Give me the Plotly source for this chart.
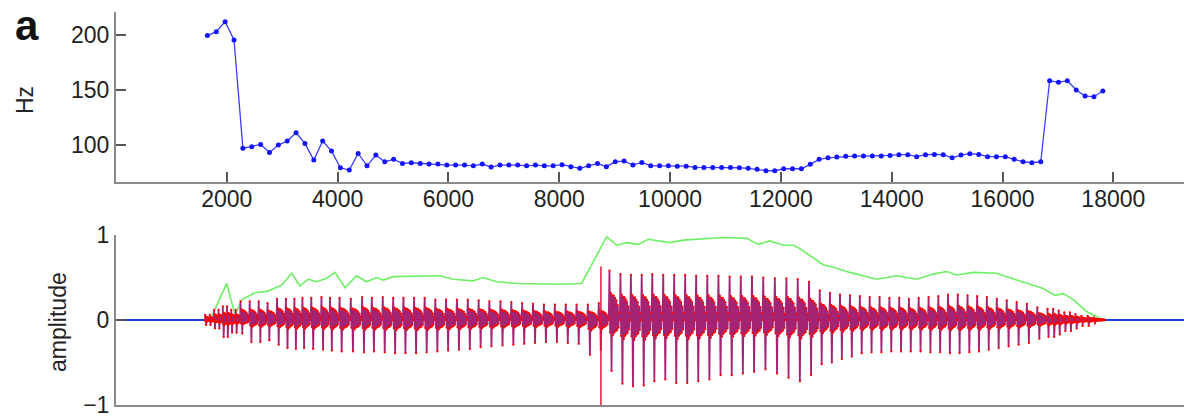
import plotly.graph_objects as go

# ---- analysis settings -------------------------------------------------
FS = 16000          # sample rate (Hz)
HOP = 160           # pitch-frame hop (samples)
FRAME0 = 1650       # sample index of the first voiced frame

# ---- pitch track (Hz), one value per frame -----------------------------
pitch_hz = [
    199.7, 203.3, 212.4, 195.7, 96.9, 98.4, 100.5, 93.2, 99.9, 103.6,
    111.1, 101.4, 86.2, 103.6, 94.4, 79.2, 77.1, 92.3, 81.0, 90.8,
    84.7, 86.9, 83.2, 83.8, 83.2, 82.6, 82.6, 81.7, 81.7, 81.7,
    81.0, 82.6, 79.8, 81.7, 81.7, 81.7, 81.0, 81.7, 81.0, 81.0,
    82.0, 80.2, 78.7, 81.0, 83.2, 80.2, 84.7, 85.3, 81.7, 84.1,
    81.0, 81.0, 81.0, 80.7, 80.7, 79.5, 79.5, 79.5, 79.5, 79.5,
    79.2, 78.7, 77.8, 76.5, 76.5, 78.3, 78.3, 78.3, 82.3, 86.9,
    88.3, 89.0, 89.6, 89.9, 89.9, 89.9, 89.9, 90.5, 91.1, 91.1,
    89.3, 91.1, 91.4, 91.1, 88.3, 90.8, 92.0, 91.4, 89.3, 89.3,
    89.3, 86.9, 84.7, 83.8, 84.7, 158.6, 157.1, 158.6, 150.1, 144.6,
    144.0, 149.2,
]
frame_t = [FRAME0 + HOP * i for i in range(len(pitch_hz))]

# ---- per-frame waveform extremes (amplitude) ---------------------------
peak_pos = [
    0.06, 0.12, 0.16, 0.12, 0.22, 0.22, 0.22, 0.20, 0.25, 0.25,
    0.25, 0.26, 0.26, 0.27, 0.26, 0.26, 0.25, 0.27, 0.26, 0.26,
    0.27, 0.26, 0.26, 0.26, 0.26, 0.25, 0.24, 0.24, 0.24, 0.24,
    0.23, 0.23, 0.22, 0.22, 0.21, 0.20, 0.19, 0.19, 0.18, 0.18,
    0.18, 0.18, 0.18, 0.18, 0.20, 0.58, 0.55, 0.54, 0.53, 0.53,
    0.54, 0.53, 0.53, 0.53, 0.53, 0.52, 0.52, 0.52, 0.52, 0.51,
    0.51, 0.51, 0.50, 0.50, 0.49, 0.49, 0.49, 0.48, 0.45, 0.35,
    0.32, 0.30, 0.29, 0.28, 0.28, 0.27, 0.27, 0.26, 0.26, 0.25,
    0.26, 0.27, 0.28, 0.30, 0.31, 0.30, 0.29, 0.28, 0.27, 0.25,
    0.23, 0.21, 0.19, 0.17, 0.15, 0.13, 0.11, 0.09, 0.07, 0.05,
    0.03, 0.01,
]
peak_neg = [
    -0.06, -0.10, -0.20, -0.15, -0.16, -0.26, -0.26, -0.24, -0.29, -0.33,
    -0.34, -0.33, -0.34, -0.35, -0.36, -0.37, -0.37, -0.38, -0.37, -0.38,
    -0.38, -0.39, -0.39, -0.39, -0.38, -0.38, -0.37, -0.36, -0.35, -0.34,
    -0.33, -0.32, -0.31, -0.30, -0.29, -0.28, -0.27, -0.27, -0.26, -0.26,
    -0.27, -0.28, -0.28, -0.41, -0.35, -0.60, -0.55, -0.75, -0.78, -0.77,
    -0.72, -0.70, -0.74, -0.74, -0.74, -0.72, -0.70, -0.69, -0.65, -0.65,
    -0.63, -0.61, -0.56, -0.58, -0.63, -0.68, -0.74, -0.72, -0.65, -0.52,
    -0.50, -0.46, -0.43, -0.40, -0.39, -0.38, -0.38, -0.37, -0.37, -0.37,
    -0.37, -0.38, -0.38, -0.39, -0.39, -0.39, -0.38, -0.37, -0.35, -0.33,
    -0.31, -0.29, -0.27, -0.25, -0.22, -0.20, -0.17, -0.13, -0.10, -0.07,
    -0.04, -0.01,
]

# normalised shape of one glottal cycle (positive part scaled by peak_pos,
# negative part by |peak_neg|)
pulse_shape = [0.0, 1.0, -0.25, 0.55, -1.0, 0.5, -0.3, 0.5,
               -0.25, 0.45, -0.22, 0.4, -0.2, 0.3, -0.15, 0.15]

VOICE_ON = 1606
VOICE_OFF = 17850
SIGNAL_END = 19275

# isolated click inside the signal
click_t = 8752
click_hi, click_lo = 0.63, -1.0

# ---- amplitude envelope ------------------------------------------------
env_t = [0, 1606, 1732, 1998, 2148, 2274, 2508, 2743, 2990, 3171, 3321,
         3470, 3622, 3802, 3952, 4133, 4344, 4524, 4705, 4824, 5004,
         5486, 5847, 6082, 6443, 6623, 6870, 7231, 8012, 8404, 8855,
         9036, 9216, 9426, 9606, 9997, 10238, 10960, 11382, 11591, 11802,
         12042, 12223, 12344, 12524, 12764, 12945, 13246, 13728, 14089,
         14450, 14749, 14991, 15172, 15471, 15893, 16254, 16734, 16945,
         17096, 17276, 17517, 17757, 17866, 19275]
env_amp = [0.0, 0.0, 0.05, 0.43, 0.06, 0.24, 0.32, 0.34, 0.41, 0.55, 0.40,
           0.48, 0.45, 0.49, 0.56, 0.38, 0.52, 0.45, 0.50, 0.47, 0.51,
           0.52, 0.52, 0.48, 0.46, 0.50, 0.45, 0.43, 0.42, 0.43, 0.98,
           0.88, 0.91, 0.89, 0.95, 0.91, 0.94, 0.97, 0.96, 0.89, 0.93,
           0.88, 0.88, 0.84, 0.76, 0.65, 0.62, 0.56, 0.48, 0.52,
           0.48, 0.54, 0.57, 0.53, 0.56, 0.55, 0.47, 0.37, 0.29,
           0.31, 0.24, 0.10, 0.02, 0.0, 0.0]

# ---- axis ticks --------------------------------------------------------
x_ticks = [2000, 4000, 6000, 8000, 10000, 12000, 14000, 16000, 18000]
x_tick_labels = ["2000", "4000", "6000", "8000", "10000", "12000",
                 "14000", "16000", "18000"]
hz_ticks = [100, 150, 200]
amp_ticks = [-1, 0, 1]
amp_tick_labels = ["\u22121", "0", "1"]

# ---- build the voiced waveform cycle by cycle from the pitch track -----
n_frames = len(pitch_hz)
wave_x, wave_y = [], []
t = float(VOICE_ON)
while t < VOICE_OFF:
    i = min(max(int(round((t - FRAME0) / HOP)), 0), n_frames - 1)
    period = FS / pitch_hz[i]
    m = len(pulse_shape)
    for k, s in enumerate(pulse_shape):
        wave_x.append(t + period * k / m)
        wave_y.append(s * peak_pos[i] if s >= 0 else -s * peak_neg[i])
    t += period
wave_x.append(VOICE_OFF)
wave_y.append(0.0)

FONT = "Liberation Sans"
TXT = "#222222"
AX = "#8a8a8a"

# figure is 418 px tall; a 13 px bottom margin leaves a 405 px plot area
PLOT_H = 405.0


def py(px):
    """paper y for a pixel row measured from the top of the figure"""
    return 1 - px / PLOT_H


def px_x(px):
    """paper x for a pixel column measured from the left of the figure"""
    return (px - 116) / 1068.0


fig = go.Figure()

# top panel: pitch track
fig.add_trace(go.Scatter(
    x=frame_t, y=pitch_hz, mode="lines+markers",
    line=dict(color="rgb(60,60,255)", width=1.3),
    marker=dict(color="rgb(20,20,255)", size=5),
    xaxis="x", yaxis="y", showlegend=False,
))

# bottom panel: envelope, silent parts, voiced waveform
fig.add_trace(go.Scatter(
    x=env_t, y=env_amp, mode="lines",
    line=dict(color="rgb(110,240,100)", width=1.6),
    xaxis="x2", yaxis="y2", showlegend=False,
))
for seg in ([0, VOICE_ON], [VOICE_OFF, SIGNAL_END]):
    fig.add_trace(go.Scatter(
        x=seg, y=[0, 0], mode="lines",
        line=dict(color="rgb(30,60,220)", width=2),
        xaxis="x2", yaxis="y2", showlegend=False,
    ))
fig.add_trace(go.Scatter(
    x=wave_x, y=wave_y, mode="lines",
    line=dict(color="rgb(165,35,115)", width=1.8),
    xaxis="x2", yaxis="y2", showlegend=False,
))
fig.add_trace(go.Scatter(
    x=wave_x, y=wave_y, mode="markers",
    marker=dict(color="rgb(255,0,0)", size=2.2, line=dict(width=0)),
    xaxis="x2", yaxis="y2", showlegend=False,
))
fig.add_trace(go.Scatter(
    x=[click_t, click_t], y=[click_hi, click_lo], mode="lines",
    line=dict(color="rgb(230,20,60)", width=1.5),
    xaxis="x2", yaxis="y2", showlegend=False,
))

axis_common = dict(
    showgrid=False, zeroline=False, showline=True, linecolor=AX, linewidth=2,
    ticks="inside", ticklen=10, tickwidth=1.5, tickcolor="#555555",
    tickfont=dict(family=FONT, size=23, color=TXT), automargin=False,
    ticklabeloverflow="allow",
)
X_RANGE = [0, 19275]

fig.update_layout(
    width=1184, height=418,
    margin=dict(l=116, r=0, t=0, b=13, autoexpand=False),
    paper_bgcolor="white", plot_bgcolor="white",
    xaxis=dict(domain=[0, 1], range=X_RANGE, anchor="y",
               tickvals=x_ticks, ticktext=x_tick_labels,
               ticklabelstandoff=-4, **axis_common),
    yaxis=dict(domain=[py(181.7), py(11.7)], range=[66.5, 221.5], anchor="x",
               tickvals=hz_ticks, **axis_common),
    xaxis2=dict(domain=[0, 1], range=X_RANGE, anchor="y2",
                showticklabels=False,
                **{k: v for k, v in axis_common.items() if k != "ticks"},
                ticks=""),
    yaxis2=dict(domain=[0, py(235)], range=[-1, 1], anchor="x2",
                tickvals=amp_ticks, ticktext=amp_tick_labels,
                **axis_common),
    annotations=[
        dict(text="Hz", x=px_x(25), y=py(100), xref="paper", yref="paper",
             textangle=-90, showarrow=False, xanchor="center", yanchor="middle",
             font=dict(family=FONT, size=23, color=TXT)),
        dict(text="amplitude", x=px_x(58), y=py(322), xref="paper", yref="paper",
             textangle=-90, showarrow=False, xanchor="center", yanchor="middle",
             font=dict(family=FONT, size=23, color=TXT)),
        dict(text="<b>a</b>", x=px_x(27), y=py(25), xref="paper", yref="paper",
             showarrow=False, xanchor="center", yanchor="middle",
             font=dict(family=FONT, size=42, color="#111111")),
    ],
)

fig.write_html("out.html")
